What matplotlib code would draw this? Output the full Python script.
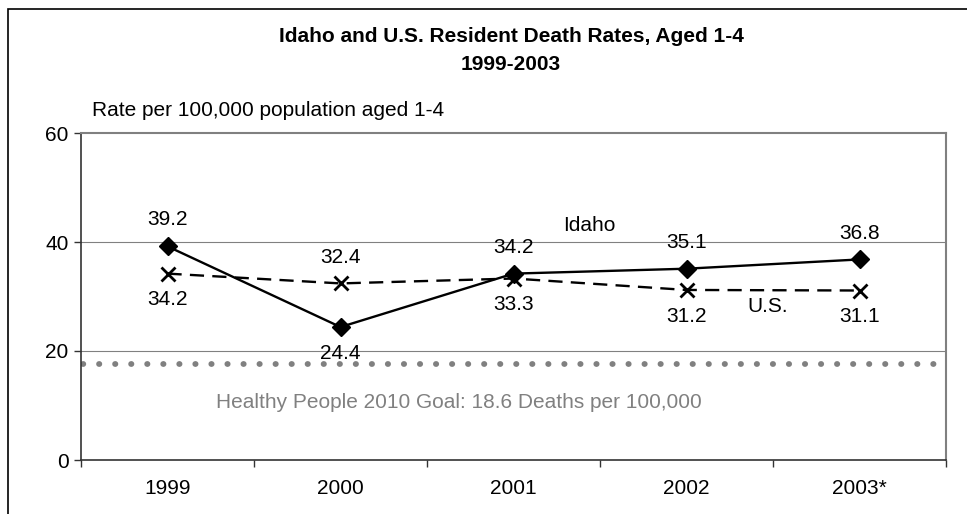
import matplotlib
matplotlib.use("Agg")
import matplotlib.pyplot as plt
from matplotlib.patches import Rectangle

plt.rcParams['font.family'] = ['Liberation Sans', 'DejaVu Sans']

# data
years = ['1999', '2000', '2001', '2002', '2003*']
idaho = [39.2, 24.4, 34.2, 35.1, 36.8]
us = [34.2, 32.4, 33.3, 31.2, 31.1]
goal_line = 17.6
# label above (+1) or below (-1) each point
idaho_side = [1, -1, 1, 1, 1]
us_side = [-1, 1, -1, -1, -1]

FS = 15

fig = plt.figure(figsize=(9.67, 5.14), dpi=100)
ax = fig.add_axes([81 / 967, 54 / 514, 865 / 967, 327 / 514])

x = list(range(len(years)))

# grid lines
for yv in [20, 40]:
    ax.axhline(yv, color='#808080', lw=0.8, zorder=1)

# healthy people goal (dotted)
ax.plot([-0.49, 4.5], [goal_line, goal_line], color='#808080', lw=4.2,
        linestyle=(0, (0.05, 2.7)), dash_capstyle='round', zorder=2)

ax.plot(x, us, color='black', lw=1.7, dashes=(6, 3.5), marker='x',
        ms=10, mew=2, zorder=3)
ax.plot(x, idaho, color='black', lw=1.7, marker='D', ms=9, zorder=4)

for i in x:
    ax.annotate(f'{idaho[i]:.1f}', (i, idaho[i]), xytext=(0, 19 * idaho_side[i]),
                textcoords='offset points', ha='center', va='center', fontsize=FS)
    ax.annotate(f'{us[i]:.1f}', (i, us[i]), xytext=(0, 19 * us_side[i]),
                textcoords='offset points', ha='center', va='center', fontsize=FS)

ax.text(2.44, 43.1, 'Idaho', ha='center', va='center', fontsize=FS)
ax.text(3.47, 28.1, 'U.S.', ha='center', va='center', fontsize=FS)
ax.text(1.685, 10.5, 'Healthy People 2010 Goal: 18.6 Deaths per 100,000',
        ha='center', va='center', fontsize=FS, color='#808080')

ax.set_xlim(-0.5, 4.5)
ax.set_ylim(0, 60)
ax.set_yticks([0, 20, 40, 60])
ax.set_xticks([i - 0.5 for i in range(len(years) + 1)])
ax.set_xticklabels([])
ax.set_xticks(x, minor=True)
ax.set_xticklabels(years, minor=True)
ax.tick_params(axis='x', which='minor', length=0, pad=14, labelsize=FS)
ax.tick_params(axis='x', which='major', length=5, width=1, color='#333333')
ax.tick_params(axis='y', length=5, width=1, color='#333333', labelsize=FS, pad=4)

for s in ['left', 'bottom']:
    ax.spines[s].set_color('#333333')
    ax.spines[s].set_linewidth(1.2)
for s in ['top', 'right']:
    ax.spines[s].set_color('#808080')
    ax.spines[s].set_linewidth(1.5)

fig.text(511 / 967, 1 - 36 / 514, 'Idaho and U.S. Resident Death Rates, Aged 1-4',
         ha='center', va='center', fontsize=FS, fontweight='bold')
fig.text(511 / 967, 1 - 64 / 514, '1999-2003', ha='center', va='center',
         fontsize=FS, fontweight='bold')
fig.text(92 / 967, 1 - 110 / 514, 'Rate per 100,000 population aged 1-4',
         ha='left', va='center', fontsize=FS)

# outer frame (cut off at right and bottom in the reference)
fig.patches.append(Rectangle((8 / 967, -0.1), 1.2, 1 - 9 / 514 + 0.1,
                             transform=fig.transFigure, fill=False,
                             edgecolor='black', lw=1.2))

fig.savefig('out.png', dpi=100)
